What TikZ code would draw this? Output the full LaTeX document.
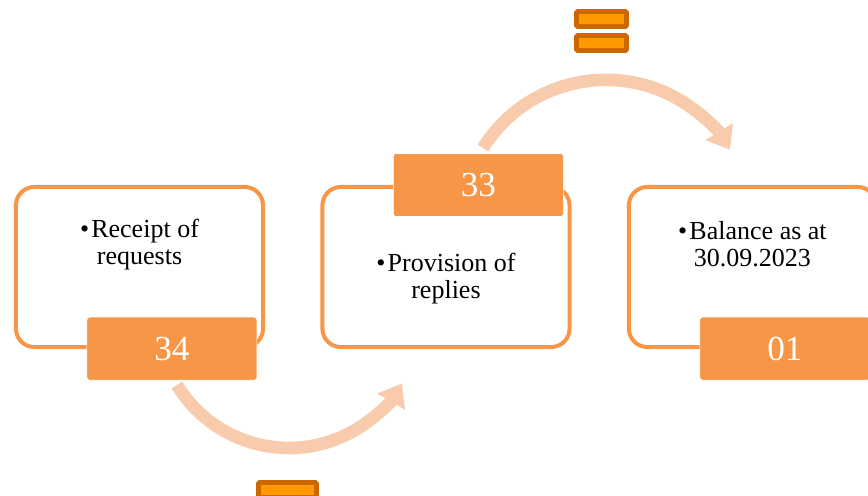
\documentclass[tikz,border=0pt]{standalone}
\usepackage{fontspec}
\setmainfont{Liberation Serif}
\usetikzlibrary{positioning,arrows.meta}
\definecolor{accent}{HTML}{F79646}
\definecolor{pale}{HTML}{F9CBAD}
\definecolor{eqline}{HTML}{CC6600}
\definecolor{eqfill}{HTML}{FF9900}
\tikzstyle{stage} = [draw=accent,line width=2.85pt,rounded corners=13pt,minimum width=6.175cm,minimum height=4cm]
\tikzstyle{tag} = [fill=accent,draw=white,line width=0.4pt,rounded corners=2pt,minimum width=4.25cm,minimum height=1.575cm,text=white,font=\fontsize{25}{30}\selectfont]
\tikzstyle{note} = [align=center,font=\fontsize{18.5}{19.2}\selectfont]
\tikzstyle{flow} = [draw=pale,line width=9pt,-{Triangle[length=15pt,width=22pt]}]
\tikzstyle{eqbar} = [draw=eqline,fill=eqfill,line width=3.5pt,rounded corners=1pt]

\begin{document}
\begin{tikzpicture}[x=0.025cm,y=-0.025cm,node distance=7.66cm,on grid]
    \useasboundingbox (0,0) rectangle (868,495);
    \clip (0,0) rectangle (868,495);
    % arcs go behind the boxes
    \coordinate (flow1) at (177,385);
    \coordinate (flow2) at (483,148);
    \draw[flow] (flow1) arc[start angle=148.7,end angle=30.5,radius=131];
    \draw[flow] (flow2) arc[start angle=-148,end angle=-31.2,radius=145];
    \node[stage] (box1) at (139.5,267) {};
    \node[stage] (box2) [right=of box1] {};
    \node[stage] (box3) [right=of box2] {};
    \node[note] (txt1) [above=0.56cm of box1] {\textbullet\hspace{1.5pt}Receipt of\\requests};
    \node[note] (txt2) [below=0.3cm of box2] {\textbullet\hspace{1.5pt}Provision of\\replies};
    \node[note] (txt3) [above=0.56cm of box3] {\textbullet\hspace{1.5pt}Balance as at\\30.09.2023};
    \node[tag] (num1) [below right=2.04cm and 0.81cm of box1] {34};
    \node[tag] (num2) [above right=2.05cm and 0.81cm of box2] {33};
    \node[tag] (num3) [below right=2.04cm and 0.81cm of box3] {01};
    % equal signs
    \draw[eqbar] (576.5,11.5) rectangle (626.5,26.5);
    \draw[eqbar] (576.5,35.5) rectangle (626.5,50.5);
    \draw[eqbar] (258.5,482.5) rectangle (316.5,497.5);
\end{tikzpicture}
\end{document}
